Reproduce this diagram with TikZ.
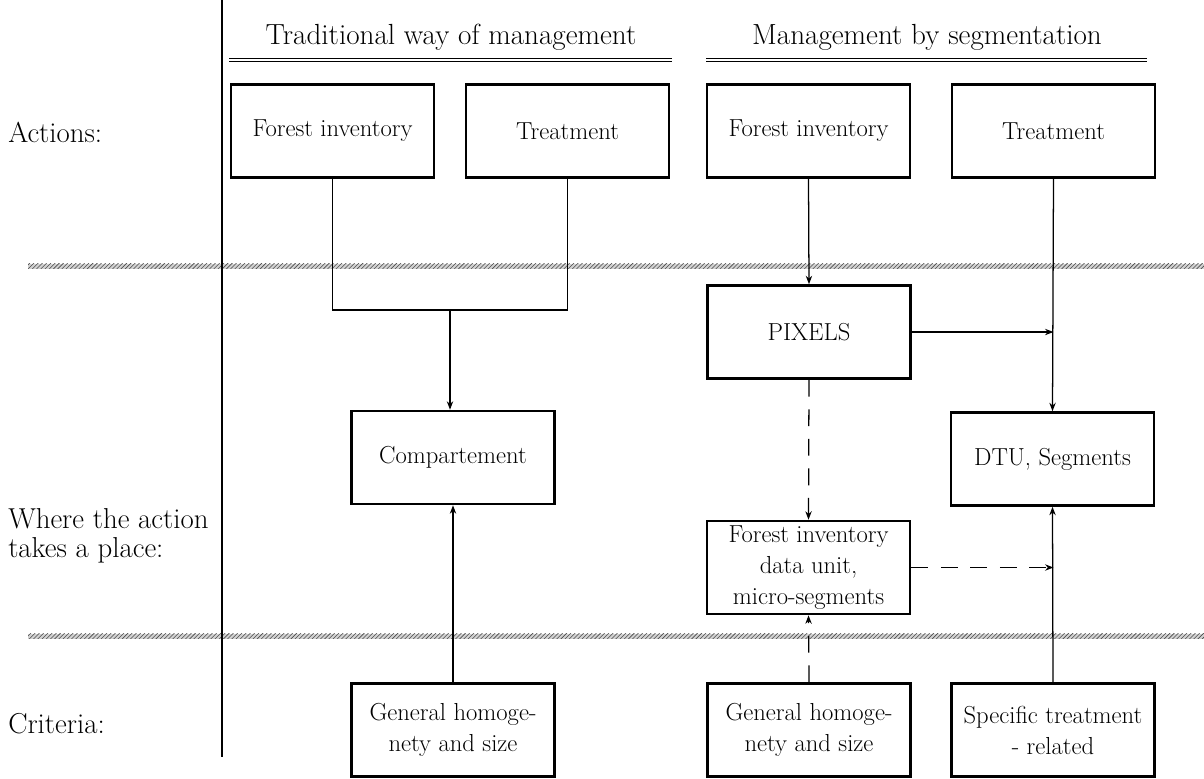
\documentclass[tikz,border=0pt]{standalone}
\usetikzlibrary{arrows.meta,patterns}
\begin{document}
\begin{tikzpicture}[x=0.025cm, y=-0.025cm,
    box/.style={draw, line width=1.8pt, minimum width=5.075cm, minimum height=2.325cm,
                align=center, inner sep=2pt, font=\fontsize{17.5}{22}\selectfont},
    lbl/.style={anchor=west, align=left, inner sep=0pt, font=\fontsize{20.5}{20.5}\selectfont},
    head/.style={anchor=base, inner sep=0pt, font=\fontsize{20.7}{24}\selectfont},
    conn/.style={line width=0.9pt},
    arrow/.style={conn, -{Stealth[length=6pt, width=4.5pt]}},
    dashline/.style={dash pattern=on 12pt off 9pt}]
    \useasboundingbox (0,0) rectangle (1204,778);

    % column headers
    \node[head] (headA) at (451,44) {Traditional way of management};
    \node[head] (headB) at (927,44) {Management by segmentation};
    \draw[line width=0.7pt, double, double distance=2pt] (229,60) -- (672,60);
    \draw[line width=0.7pt, double, double distance=2pt] (706,60) -- (1147,60);

    % row separators
    \foreach \y in {266,636} {
        \fill[gray!35] (28,\y-2.5) rectangle (1204,\y+2.5);
        \fill[pattern=north east lines, pattern color=black!70] (28,\y-2.5) rectangle (1204,\y+2.5);
    }
    \draw[line width=1.4pt] (222,0) -- (222,757);

    % row labels
    \node[lbl] (actions) at (8,132) {Actions:};
    \node[lbl] (where) at (8,536) {Where the action\\takes a place:};
    \node[lbl] (criteria) at (8,724) {Criteria:};

    % traditional way
    \node[box] (fiA) at (332.5,131) {Forest inventory};
    \node[box] (trA) at (567.5,131) {Treatment};
    \node[box] (comp) at (453,457.5) {Compartement};
    \node[box] (genA) at (453,730) {General homoge-\\nety and size};

    % segmentation
    \node[box] (fiB) at (808.5,131) {Forest inventory};
    \node[box] (trB) at (1053.5,131) {Treatment};
    \node[box] (pix) at (809,332) {PIXELS};
    \node[box] (dtu) at (1052.5,459) {DTU, Segments};
    \node[box] (fidu) at (808.5,567.5) {Forest inventory\\data unit,\\micro-segments};
    \node[box] (genB) at (809,730) {General homoge-\\nety and size};
    \node[box] (spec) at (1053,730) {Specific treatment\\- related};

    % connectors
    \coordinate (joinA) at (450,310);
    \draw[conn] (fiA.south) -- (fiA.south |- joinA) -- (trA.south |- joinA) -- (trA.south);
    \draw[arrow] (joinA) -- (joinA |- comp.north);
    \draw[arrow] (genA.north) -- (comp.south);

    \draw[arrow] (fiB.south) -- (pix.north);
    \draw[arrow] (trB.south) -- (dtu.north);
    \coordinate (hitB) at (trB.south |- pix.east);
    \draw[arrow] (pix.east) -- (hitB);
    \draw[arrow, dashline] (pix.south) -- (fidu.north);
    \coordinate (hitC) at (trB.south |- fidu.east);
    \draw[arrow, dashline] (fidu.east) -- (hitC);
    \draw[arrow, dashline] (genB.north) -- (fidu.south);
    \draw[arrow] (spec.north) -- (dtu.south);
\end{tikzpicture}
\end{document}
